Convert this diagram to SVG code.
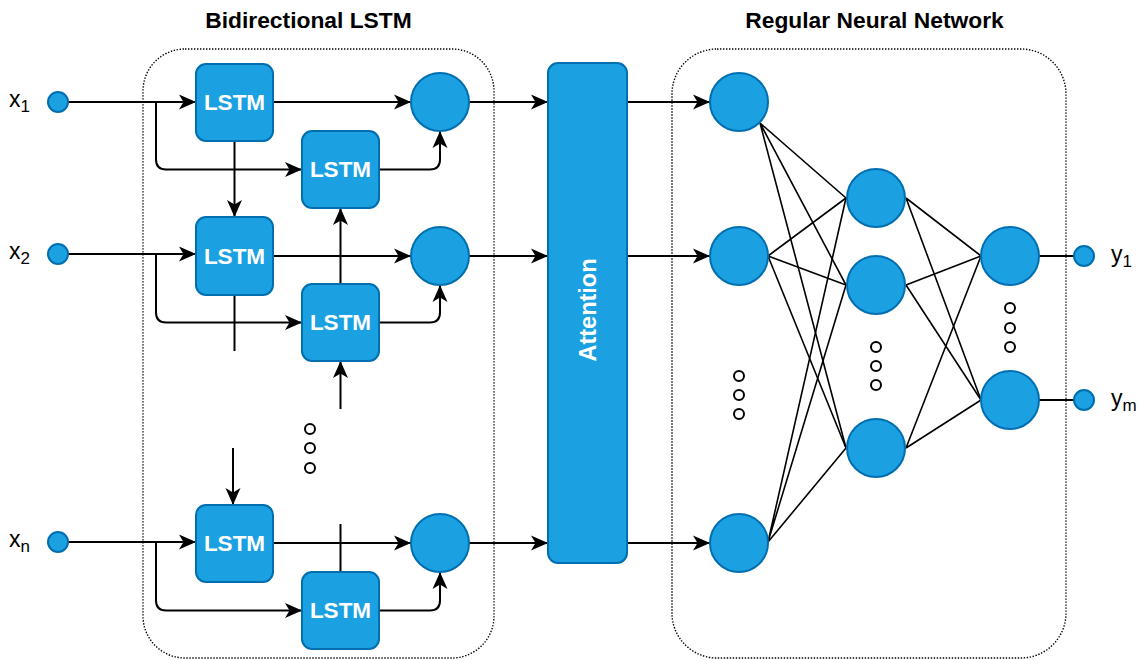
<svg xmlns="http://www.w3.org/2000/svg" width="1138" height="660" viewBox="0 0 1138 660">
<defs>
<marker id="arr" markerUnits="userSpaceOnUse" markerWidth="18" markerHeight="18" refX="17" refY="8.5" orient="auto">
<path d="M0,1 L17,8.5 L0,16 L4.5,8.5 Z" fill="#000"/>
</marker>
<style>
.box{fill:#1BA1E2;stroke:#006EAF;stroke-width:2}
.node{fill:#1BA1E2;stroke:#006EAF;stroke-width:2}
.lbl{font-family:"Liberation Sans",Arial,Helvetica,sans-serif;font-weight:bold;font-size:22.5px;fill:#fff;text-anchor:middle;dominant-baseline:central}
.att{font-size:23.5px}
.title{font-family:"Liberation Sans",Arial,Helvetica,sans-serif;font-weight:bold;font-size:22.8px;fill:#000;text-anchor:middle}
.io{font-family:"Liberation Sans",Arial,Helvetica,sans-serif;font-size:23px;fill:#000}
.cont{fill:none;stroke:#000;stroke-width:1.4;stroke-dasharray:1.4 1.6}
.c{fill:none;stroke:#000;stroke-width:2}
.ca{fill:none;stroke:#000;stroke-width:2;marker-end:url(#arr)}
.nn{fill:none;stroke:#000;stroke-width:1.6}
.dot{fill:#fff;stroke:#000;stroke-width:2}
</style>
</defs>
<rect width="1138" height="660" fill="#fff"/>

<g id="containers">
<rect class="cont" x="143" y="49" width="351" height="609" rx="42" ry="42"/>
<rect class="cont" x="672" y="49" width="394" height="609" rx="45" ry="45"/>
<text class="title" x="308.5" y="28">Bidirectional LSTM</text>
<text class="title" x="874.5" y="28">Regular Neural Network</text>
</g>

<g id="connectors">
<path class="ca" d="M68,102 H196"/>
<path class="ca" d="M156,102 V159.5 Q156,169.5 166,169.5 H302"/>
<path class="ca" d="M273,102 H411"/>
<path class="ca" d="M379,169.5 H430 Q440,169.5 440,159.5 V131"/>
<path class="ca" d="M234.5,141 V217"/>
<path class="ca" d="M340.5,284 V208"/>
<path class="ca" d="M68,254 H196"/>
<path class="ca" d="M156,254 V312.5 Q156,322.5 166,322.5 H302"/>
<path class="ca" d="M273,256 H411"/>
<path class="ca" d="M379,322.5 H430 Q440,322.5 440,312.5 V285"/>
<path class="c" d="M234.5,295 V351"/>
<path class="ca" d="M340.5,409 V361"/>
<path class="ca" d="M233,448 V505"/>
<path class="ca" d="M68,542 H196"/>
<path class="ca" d="M156,542 V600.5 Q156,610.5 166,610.5 H302"/>
<path class="ca" d="M273,543 H411"/>
<path class="c" d="M340.5,572 V524"/>
<path class="ca" d="M379,610.5 H430 Q440,610.5 440,600.5 V572"/>
<path class="ca" d="M469,102 H548"/>
<path class="ca" d="M469,256 H548"/>
<path class="ca" d="M469,543 H548"/>
<path class="ca" d="M627,102 H710"/>
<path class="ca" d="M627,256 H710"/>
<path class="ca" d="M627,543 H710"/>
<path class="nn" d="M760,123 L846,198 M760,123 L846,285 M760,123 L846,448"/>
<path class="nn" d="M768,256 L846,198 M768,256 L846,285 M768,256 L846,448"/>
<path class="nn" d="M768,542 L846,198 M768,542 L846,285 M768,542 L846,448"/>
<path class="nn" d="M906,198 L981,256 M906,198 L981,400"/>
<path class="nn" d="M906,285 L981,256 M906,285 L981,400"/>
<path class="nn" d="M906,448 L981,256 M906,448 L981,400"/>
<path class="c" d="M1039,256 H1074 M1039,400 H1074"/>
</g>

<g id="inputs">
<circle class="node" cx="58" cy="102" r="10"/>
<circle class="node" cx="58" cy="254" r="10"/>
<circle class="node" cx="58" cy="542" r="10"/>
<text class="io" x="9" y="107">x<tspan font-size="17" dy="5">1</tspan></text>
<text class="io" x="9" y="259">x<tspan font-size="17" dy="5">2</tspan></text>
<text class="io" x="9" y="547">x<tspan font-size="17" dy="5">n</tspan></text>
</g>

<g id="lstm-f1"><rect class="box" x="196" y="64" width="77" height="77" rx="10"/><text class="lbl" x="234.5" y="102.5">LSTM</text></g>
<g id="lstm-b1"><rect class="box" x="302" y="131" width="77" height="77" rx="10"/><text class="lbl" x="340.5" y="169.5">LSTM</text></g>
<g id="lstm-f2"><rect class="box" x="196" y="217" width="77" height="78" rx="10"/><text class="lbl" x="234.5" y="256">LSTM</text></g>
<g id="lstm-b2"><rect class="box" x="302" y="284" width="77" height="77" rx="10"/><text class="lbl" x="340.5" y="322.5">LSTM</text></g>
<g id="lstm-fn"><rect class="box" x="196" y="505" width="77" height="77" rx="10"/><text class="lbl" x="234.5" y="543.5">LSTM</text></g>
<g id="lstm-bn"><rect class="box" x="302" y="572" width="77" height="77" rx="10"/><text class="lbl" x="340.5" y="610.5">LSTM</text></g>

<g id="merge">
<circle class="node" cx="440" cy="102" r="29"/>
<circle class="node" cx="440" cy="256" r="29"/>
<circle class="node" cx="440" cy="543" r="29"/>
<circle class="dot" cx="310" cy="429" r="5"/>
<circle class="dot" cx="310" cy="448" r="5"/>
<circle class="dot" cx="310" cy="468" r="5"/>
</g>

<g id="attention">
<rect class="box" x="548" y="63" width="79" height="500" rx="10"/>
<text class="lbl att" transform="translate(588,310) rotate(-90)">Attention</text>
</g>

<g id="nn-input">
<circle class="node" cx="739" cy="102" r="29"/>
<circle class="node" cx="739" cy="256" r="29"/>
<circle class="node" cx="739" cy="543" r="29"/>
<circle class="dot" cx="739" cy="376" r="5"/>
<circle class="dot" cx="739" cy="395" r="5"/>
<circle class="dot" cx="739" cy="414" r="5"/>
</g>
<g id="nn-hidden">
<circle class="node" cx="876" cy="198" r="29"/>
<circle class="node" cx="876" cy="285" r="29"/>
<circle class="node" cx="876" cy="448" r="29"/>
<circle class="dot" cx="876" cy="347" r="5"/>
<circle class="dot" cx="876" cy="366" r="5"/>
<circle class="dot" cx="876" cy="385" r="5"/>
</g>
<g id="nn-output">
<circle class="node" cx="1010" cy="256" r="29"/>
<circle class="node" cx="1010" cy="400" r="29"/>
<circle class="dot" cx="1010" cy="308" r="5"/>
<circle class="dot" cx="1010" cy="328" r="5"/>
<circle class="dot" cx="1010" cy="347" r="5"/>
</g>
<g id="outputs">
<circle class="node" cx="1084" cy="256" r="10"/>
<circle class="node" cx="1084" cy="400" r="10"/>
<text class="io" x="1111" y="262">y<tspan font-size="17" dy="5">1</tspan></text>
<text class="io" x="1111" y="406">y<tspan font-size="17" dy="5">m</tspan></text>
</g>
</svg>
